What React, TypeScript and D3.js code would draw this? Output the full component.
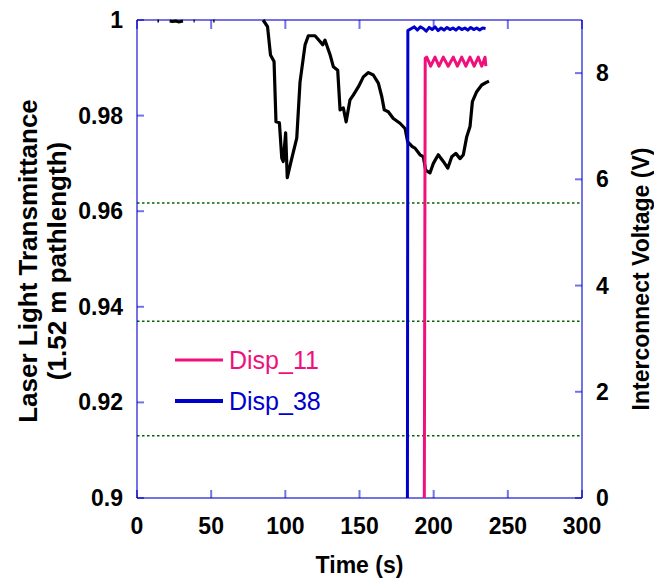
import React from "react";
import * as d3 from "d3";

// ---- data ----
const transTime = [85, 88, 90, 92.4, 93.7, 96, 97.6, 98.6, 100.2, 101.3, 104.3, 107.7, 109.9, 113.3, 115.5, 120, 123.4, 125.2, 126.7, 130.1, 132.4, 135.3, 136.9, 139.1, 141, 143.6, 145.8, 149.2, 152.6, 156, 159.3, 162.7, 165, 166.7, 169.4, 172.8, 177.3, 180.7, 182.5, 185.6, 187.4, 190.8, 193, 194.6, 197.5, 199.8, 203.1, 206.5, 209.5, 212.2, 214.9, 217.8, 220, 222.3, 224.5, 226.1, 229, 232.4, 235.8, 237.3];
const transValue = [1.0, 0.9986, 0.9927, 0.9913, 0.9787, 0.9785, 0.9711, 0.9704, 0.9764, 0.967, 0.971, 0.9753, 0.987, 0.9948, 0.9967, 0.9967, 0.9955, 0.9948, 0.9958, 0.9928, 0.9902, 0.9895, 0.9812, 0.9816, 0.9787, 0.9833, 0.9843, 0.986, 0.9881, 0.989, 0.9885, 0.9868, 0.984, 0.9812, 0.9808, 0.9794, 0.9784, 0.9773, 0.9745, 0.9735, 0.9732, 0.9718, 0.9714, 0.9686, 0.968, 0.97, 0.9718, 0.9704, 0.969, 0.9714, 0.9721, 0.971, 0.9718, 0.9756, 0.9777, 0.9829, 0.985, 0.9864, 0.987, 0.9872];

// early samples that only touch the top of the range (gaps = NaN)
const earlyTime = [13.8, 14.8, NaN, 22, 24, 26, 28, 31, NaN, 38.1, 38.9, NaN, 51.4, 52.3];
const earlyValue = [0.9998, 0.9998, NaN, 0.9998, 0.9997, 0.9998, 0.9996, 0.9998, NaN, 0.9998, 0.9998, NaN, 0.9998, 0.9998];

const disp38Time = [182.3, 182.6, 185, 187, 189, 191, 193, 195, 197, 199, 201, 203, 205, 207, 209, 211, 213, 215, 217, 219, 221, 223, 225, 227, 229, 231, 233, 235];
const disp38Volt = [0, 8.8, 8.84, 8.87, 8.81, 8.87, 8.84, 8.79, 8.86, 8.82, 8.87, 8.8, 8.85, 8.81, 8.86, 8.82, 8.85, 8.81, 8.86, 8.82, 8.85, 8.81, 8.86, 8.82, 8.85, 8.81, 8.85, 8.84];

const disp11Time = [193.7, 194.3, 195.3, 198, 200.9, 203.6, 206.5, 209.8, 213.2, 216, 218.9, 221.7, 224.5, 227.3, 230.1, 232.4, 234.6, 235.2];
const disp11Volt = [0, 8.28, 8.3, 8.13, 8.3, 8.13, 8.3, 8.13, 8.3, 8.13, 8.3, 8.13, 8.3, 8.13, 8.3, 8.13, 8.3, 8.13];

const thresholds = [0.9617, 0.937, 0.913];

const xTicks = [0, 50, 100, 150, 200, 250, 300];
const yLeftTicks = [0.9, 0.92, 0.94, 0.96, 0.98, 1];
const yLeftLabels = ["0.9", "0.92", "0.94", "0.96", "0.98", "1"];
const yRightTicks = [0, 2, 4, 6, 8];

const legendNames = ["Disp_11", "Disp_38"];

// ---- layout ----
const W = 654, H = 582;
const L = 137, R = 582, T = 20, B = 498;
const FONT = "'Liberation Sans', Arial, sans-serif";
const AXIS = "#0000cc";
const PINK = "#f0107c";
const BLUE = "#0000cc";

export default function App() {
  const x = d3.scaleLinear().domain([0, 300]).range([L, R]);
  const y = d3.scaleLinear().domain([0.9, 1.0]).range([B, T]);
  const yv = d3.scaleLinear().domain([0, 9]).range([B, T]);

  const lineT = d3.line<number>()
    .defined((i) => !Number.isNaN(earlyTime[i]))
    .x((i) => x(earlyTime[i]))
    .y((i) => y(earlyValue[i]));
  const mainLine = d3.line<number>().x((i) => x(transTime[i])).y((i) => y(transValue[i]));
  const l38 = d3.line<number>().x((i) => x(disp38Time[i])).y((i) => yv(disp38Volt[i]));
  const l11 = d3.line<number>().x((i) => x(disp11Time[i])).y((i) => yv(disp11Volt[i]));

  const idx = (a: number[]) => a.map((_, i) => i);

  return (
    <svg width={W} height={H} style={{ position: "absolute", left: 0, top: 0, background: "#fff" }} fontFamily={FONT}>
      <defs>
        <clipPath id="plot">
          <rect x={L} y={T - 2} width={R - L} height={B - T + 2} />
        </clipPath>
      </defs>

      {/* threshold dotted lines */}
      {thresholds.map((v) => (
        <line key={v} x1={L} x2={R} y1={y(v)} y2={y(v)} stroke="#006400" strokeWidth={1.5} strokeDasharray="2.5,2.5" />
      ))}

      {/* axes frame */}
      <g stroke={AXIS} strokeOpacity={0.55} strokeWidth={2} fill="none">
        <line x1={L} x2={R} y1={B} y2={B} />
        <line x1={L} x2={R} y1={T} y2={T} />
        <line x1={L} x2={L} y1={T} y2={B} />
        <line x1={R} x2={R} y1={T} y2={B} />
        {xTicks.map((t) => (
          <g key={t}>
            <line x1={x(t)} x2={x(t)} y1={B} y2={B - 8} />
            <line x1={x(t)} x2={x(t)} y1={T} y2={T + 9} />
          </g>
        ))}
        {yLeftTicks.map((t) => (
          <line key={t} x1={L} x2={L + 7} y1={y(t)} y2={y(t)} />
        ))}
        {yRightTicks.map((t) => (
          <line key={t} x1={R} x2={R - 7} y1={yv(t)} y2={yv(t)} />
        ))}
      </g>

      <g clipPath="url(#plot)" fill="none" strokeLinejoin="round">
        <path d={lineT(idx(earlyTime)) || ""} stroke="#000" strokeWidth={3} />
        <path d={mainLine(idx(transTime)) || ""} stroke="#000" strokeWidth={3.2} />
        <path d={l38(idx(disp38Time)) || ""} stroke={BLUE} strokeWidth={3} />
        <path d={l11(idx(disp11Time)) || ""} stroke={PINK} strokeWidth={3} />
      </g>

      {/* tick labels */}
      <g fontSize={23} fontWeight="bold" fill="#000">
        {xTicks.map((t) => (
          <text key={t} x={x(t)} y={534} textAnchor="middle">{t}</text>
        ))}
        {yLeftTicks.map((t, i) => (
          <text key={t} x={123} y={y(t) + 8} textAnchor="end">{yLeftLabels[i]}</text>
        ))}
        {yRightTicks.map((t) => (
          <text key={t} x={596} y={yv(t) + 8} textAnchor="start">{t}</text>
        ))}
        <text x={(L + R) / 2} y={573} textAnchor="middle">Time (s)</text>
        <text transform={`translate(649,279) rotate(-90)`} textAnchor="middle">Interconnect Voltage (V)</text>
      </g>
      <g fontSize={26} fontWeight="bold" fill="#000">
        <text transform={`translate(37,${(T + B) / 2 + 2}) rotate(-90)`} textAnchor="middle">Laser Light Transmittance</text>
        <text transform={`translate(66,${(T + B) / 2 + 2}) rotate(-90)`} textAnchor="middle">(1.52 m pathlength)</text>
      </g>

      {/* legend */}
      <g fontSize={25}>
        <line x1={175} x2={223} y1={360} y2={360} stroke={PINK} strokeWidth={3} />
        <text x={229} y={369} fill={PINK}>{legendNames[0]}</text>
        <line x1={175} x2={223} y1={401} y2={401} stroke={BLUE} strokeWidth={4} />
        <text x={229} y={410} fill={BLUE}>{legendNames[1]}</text>
      </g>
    </svg>
  );
}
